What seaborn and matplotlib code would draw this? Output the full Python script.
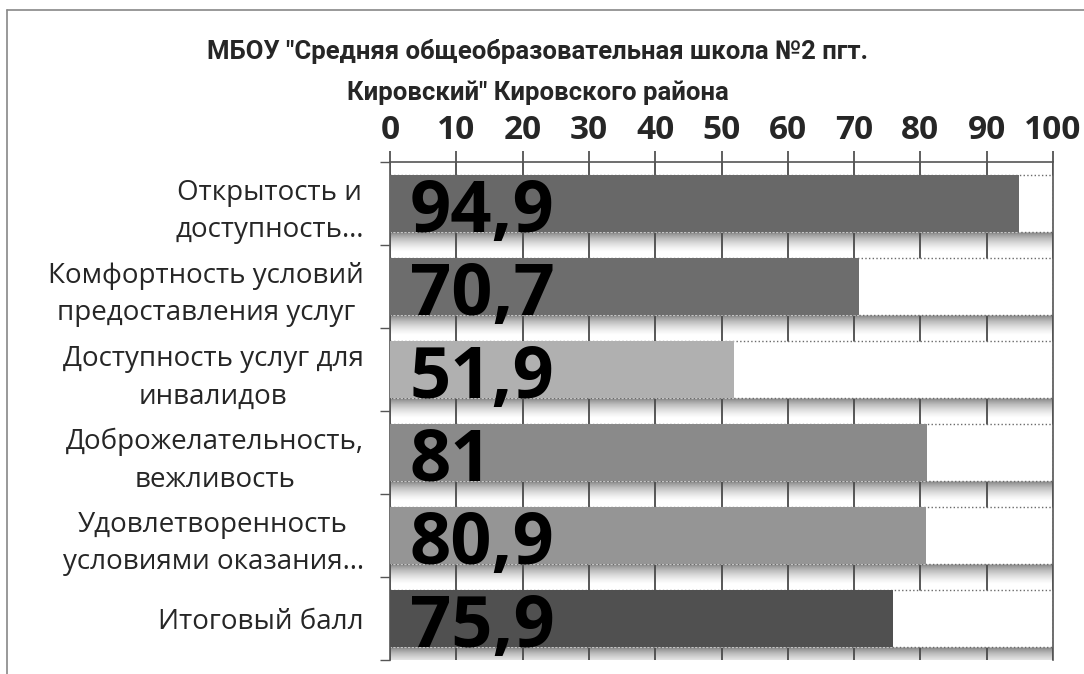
import numpy as np
import pandas as pd
import matplotlib
matplotlib.use("Agg")
import matplotlib.pyplot as plt
from matplotlib.lines import Line2D
import seaborn as sns

# Chart data
categories = [
    "Открытость и\nдоступность…",
    "Комфортность условий\nпредоставления услуг",
    "Доступность услуг для\nинвалидов",
    "Доброжелательность,\nвежливость",
    "Удовлетворенность\nусловиями оказания…",
    "Итоговый балл",
]
scores = [94.9, 70.7, 51.9, 81.0, 80.9, 75.9]
full_scale = [100] * len(categories)
bar_colors = ["#686868", "#6d6d6d", "#b0b0b0", "#8a8a8a", "#959595", "#505050"]
x_ticks = list(range(0, 101, 10))
title = 'МБОУ "Средняя общеобразовательная школа №2 пгт.\nКировский" Кировского района'

df = pd.DataFrame({"category": categories, "score": scores, "full": full_scale})

sns.set_theme(style="white")
plt.rcParams["font.family"] = ["Open Sans", "DejaVu Sans"]

fig = plt.figure(figsize=(10.84, 6.74), dpi=100)
ax = fig.add_axes([0.3598, 0.0208, 0.6116, 0.7389])

# white "rest to 100" bars with dotted outline
sns.barplot(data=df, x="full", y="category", color="white", width=0.69,
            edgecolor="#6a6a6a", linewidth=1.0, linestyle=":", ax=ax, zorder=2)
bg_patches = list(ax.patches)

# score bars
sns.barplot(data=df, x="score", y="category", hue="category", palette=bar_colors,
            width=0.69, legend=False, ax=ax, saturation=1, zorder=3, linewidth=0)

# soft shadow under each row
grad = np.linspace(0.55, 0.0, 40).reshape(-1, 1)
for p in bg_patches:
    y_bot = p.get_y() + p.get_height()
    ax.imshow(grad, cmap="Greys", vmin=0, vmax=1, aspect="auto",
              extent=(0, 100, y_bot + 0.24, y_bot), zorder=0.3, interpolation="bilinear")

# value labels
for p, v in zip(bg_patches, scores):
    yc = p.get_y() + p.get_height() / 2
    ax.text(3, yc + 0.34, f"{v:g}".replace(".", ","), fontsize=52, fontweight="bold",
            color="black", ha="left", va="baseline", zorder=5)

ax.set_xlim(0, 100)
ax.set_ylim(len(categories) - 0.5, -0.5)
ax.set_xticks(x_ticks)
ax.set_xticklabels([str(t) for t in x_ticks], fontsize=24, fontweight="bold")
ax.xaxis.tick_top()
ax.tick_params(axis="x", top=True, bottom=False, direction="out", length=8,
               width=1.2, color="#444444", pad=3)
ax.set_yticks(range(len(categories)))
ax.set_yticklabels(categories, fontsize=20, multialignment="center", linespacing=1.45)
ax.set_yticks(np.arange(-0.5, len(categories), 1), minor=True)
ax.tick_params(axis="y", which="major", length=0, pad=19)
ax.tick_params(axis="y", which="minor", left=True, length=7, width=1, color="#555555")
ax.set_xlabel("")
ax.set_ylabel("")

ax.set_axisbelow(True)
ax.grid(axis="x", color="#4a4a4a", linewidth=1.3)
ax.grid(axis="y", visible=False)
for side in ["top", "left", "right"]:
    ax.spines[side].set_visible(True)
    ax.spines[side].set_color("#555555")
    ax.spines[side].set_linewidth(1.2)
ax.spines["bottom"].set_visible(False)

fig.text(0.496, 0.851, title, ha="center", va="baseline", fontsize=18.5, fontweight="bold",
         family=["Roboto", "DejaVu Sans"], linespacing=1.85)

# outer chart frame
fig.add_artist(Line2D([0.0065, 0.0065], [0.0, 0.985], color="#888888", lw=1.2,
                      transform=fig.transFigure))
fig.add_artist(Line2D([0.0065, 1.0], [0.985, 0.985], color="#888888", lw=1.2,
                      transform=fig.transFigure))

fig.savefig("out.png", dpi=100)
